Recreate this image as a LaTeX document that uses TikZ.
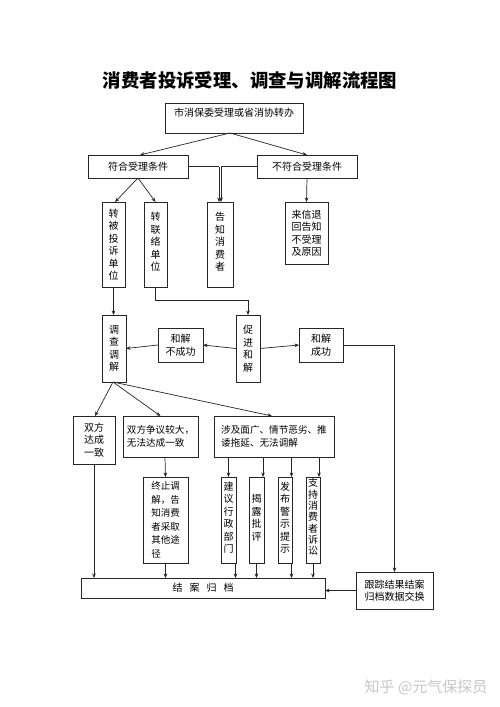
\documentclass[tikz,border=0pt]{standalone}
\usepackage{fontspec}
\setmainfont{Noto Sans CJK SC}
\usetikzlibrary{arrows.meta,calc}
\begin{document}
\begin{tikzpicture}[x=1pt,y=-1pt,
  box/.style={draw=black!85, line width=0.7pt, inner sep=0pt, outer sep=0pt, align=center, font=\fontsize{10}{12.5}\selectfont},
  arr/.style={-{Stealth[length=4.5pt,width=3.6pt]}, line width=0.7pt, draw=black!85},
  ln/.style={line width=0.7pt, draw=black!85}]
\useasboundingbox (0,0) rectangle (500,707);
\fill[white] (0,0) rectangle (500,707);

\node[font=\fontsize{18.4}{20}\selectfont\bfseries] (title) at (250,80) {消费者投诉受理、调查与调解流程图};

\node[box, minimum width=138pt, minimum height=30pt, text height=8pt, text depth=10.4pt] (top) at (234,118) {市消保委受理或省消协转办};
\node[box, minimum width=100pt, minimum height=23pt] (fuhe) at (138,166.5) {符合受理条件};
\node[box, minimum width=100pt, minimum height=23pt] (bufuhe) at (307,166.5) {不符合受理条件};

\node[box, minimum width=23pt, minimum height=85pt] (zhuanbei) at (113.5,244.5) {转\\被\\投\\诉\\单\\位};
\node[box, minimum width=23pt, minimum height=85pt, anchor=north] (zhuanlian) at (155.5,202) {\\[-9pt]转\\联\\络\\单\\位};
\node[box, minimum width=26pt, minimum height=85pt, anchor=north] (gaozhi) at (220,202) {\\[-9pt]告\\知\\消\\费\\者};
\node[box, minimum width=43pt, minimum height=62pt] (laixin) at (306.5,233) {来信退\\回告知\\不受理\\及原因};

\node[box, minimum width=24pt, minimum height=67pt] (diaocha) at (114,348.5) {调\\查\\调\\解};
\node[box, minimum width=45pt, minimum height=34pt] (hejiebu) at (180.5,345) {和解\\不成功};
\node[box, minimum width=24pt, minimum height=67pt] (cujin) at (248,348.5) {促\\进\\和\\解};
\node[box, minimum width=44pt, minimum height=34pt] (hejiecg) at (321,345) {和解\\成功};

\node[box, minimum width=42pt, minimum height=48pt] (shuangfang) at (94,440) {双方\\达成\\一致};
\node[box, minimum width=75pt, minimum height=41pt, align=left, font=\fontsize{9.6}{13}\selectfont] (zhengyi) at (160.5,436.5) {双方争议较大，\\无法达成一致};
\node[box, minimum width=120pt, minimum height=41pt, align=left, font=\fontsize{9.6}{13}\selectfont] (sheji) at (274,436.5) {涉及面广、情节恶劣、推\\诿拖延、无法调解};

\node[box, minimum width=45pt, minimum height=86pt, align=left, font=\fontsize{9.5}{13.5}\selectfont] (zhongzhi) at (165.5,520) {终止调\\解，告\\知消费\\者采取\\其他途\\径};
\node[box, minimum width=15pt, minimum height=86pt, anchor=north] (jianyi) at (228.5,477) {\\[-9pt]建\\议\\行\\政\\部\\门};
\node[box, minimum width=15pt, minimum height=86pt, anchor=north] (jielu) at (256.5,477) {\\[-9pt]揭\\露\\批\\评};
\node[box, minimum width=14pt, minimum height=86pt, anchor=north] (fabu) at (285,477) {\\[-9pt]发\\布\\警\\示\\提\\示};
\node[box, minimum width=14pt, minimum height=86pt, anchor=north, font=\fontsize{10}{11.3}\selectfont] (zhichi) at (313,477) {\\[-9pt]支\\持\\消\\费\\者\\诉\\讼};

\node[box, minimum width=244pt, minimum height=20pt] (jiean) at (203,588) {结\kern7pt 案\kern7pt 归\kern7pt 档};
\node[box, minimum width=77pt, minimum height=37pt] (genzong) at (394.5,590.5) {跟踪结果结案\\归档数据交换};

\node[text=black!22, font=\fontsize{15}{16}\selectfont] (wm) at (426,687) {知乎 @元气保探员};

% connectors
\coordinate (split) at ($(top.south)+(-4,0)$);
\draw[arr] (split) -- ($(fuhe.north)+(2,0)$);
\draw[arr] (split) -- (bufuhe.north);
\draw[ln] (fuhe.east) -- ++(31,0) coordinate (d1);
\draw[arr] (d1) -- (d1 |- gaozhi.north);
\draw[ln] (bufuhe.west) -- ++(-36,0) coordinate (d2);
\draw[arr] (d2) -- (d2 |- gaozhi.north);
\draw[arr] (bufuhe.south) -- (laixin.north);
\draw[arr] (fuhe.south) -- ($(zhuanbei.north)+(1.5,0)$);
\draw[arr] (fuhe.south) -- (zhuanlian.north);

\draw[arr] (zhuanbei.south) -- (zhuanbei.south |- diaocha.north);
\draw[arr] (zhuanlian.south) -- ++(0,13) -| (cujin.north);
\draw[arr] (cujin.west) -- (hejiebu.east);
\draw[arr] (hejiebu.west) -- (diaocha.east);
\draw[arr] (cujin.east) -- (hejiecg.west);
\draw[arr] (hejiecg.east) -| (genzong.north);

\draw[arr] ($(diaocha.south)+(-1,0)$) -- ($(shuangfang.north)+(1,0)$);
\draw[arr] ($(diaocha.south)+(-1,0)$) -- ($(zhengyi.north)+(0,0)$);
\draw[arr] ($(diaocha.south)+(-1,0)$) -- ($(sheji.north)+(-2,0)$);

\draw[arr] ($(zhengyi.south)+(4.5,0)$) -- ($(zhongzhi.north)+(0,0)$);
\draw[arr] (jianyi.north |- sheji.south) -- (jianyi.north);
\draw[arr] ([xshift=-1pt]jielu.north east |- sheji.south) -- ([xshift=-1pt]jielu.north east);
\draw[arr] ([xshift=-0.5pt]fabu.north east |- sheji.south) -- ([xshift=-0.5pt]fabu.north east);
\draw[arr] ([xshift=-1pt]zhichi.north east |- sheji.south) -- ([xshift=-1pt]zhichi.north east);

\draw[arr] (shuangfang.south) -- (shuangfang.south |- jiean.north);
\draw[arr] (zhongzhi.south) -- (zhongzhi.south |- jiean.north);
\draw[arr] ([xshift=-0.5pt]jianyi.south east) -- ([xshift=-0.5pt]jianyi.south east |- jiean.north);
\draw[arr] (jielu.south) -- (jielu.south |- jiean.north);
\draw[arr] ([xshift=-0.5pt]fabu.south east) -- ([xshift=-0.5pt]fabu.south east |- jiean.north);
\draw[arr] (zhichi.south) -- (zhichi.south |- jiean.north);
\draw[arr] (genzong.west) -- (genzong.west -| jiean.east);
\end{tikzpicture}
\end{document}
